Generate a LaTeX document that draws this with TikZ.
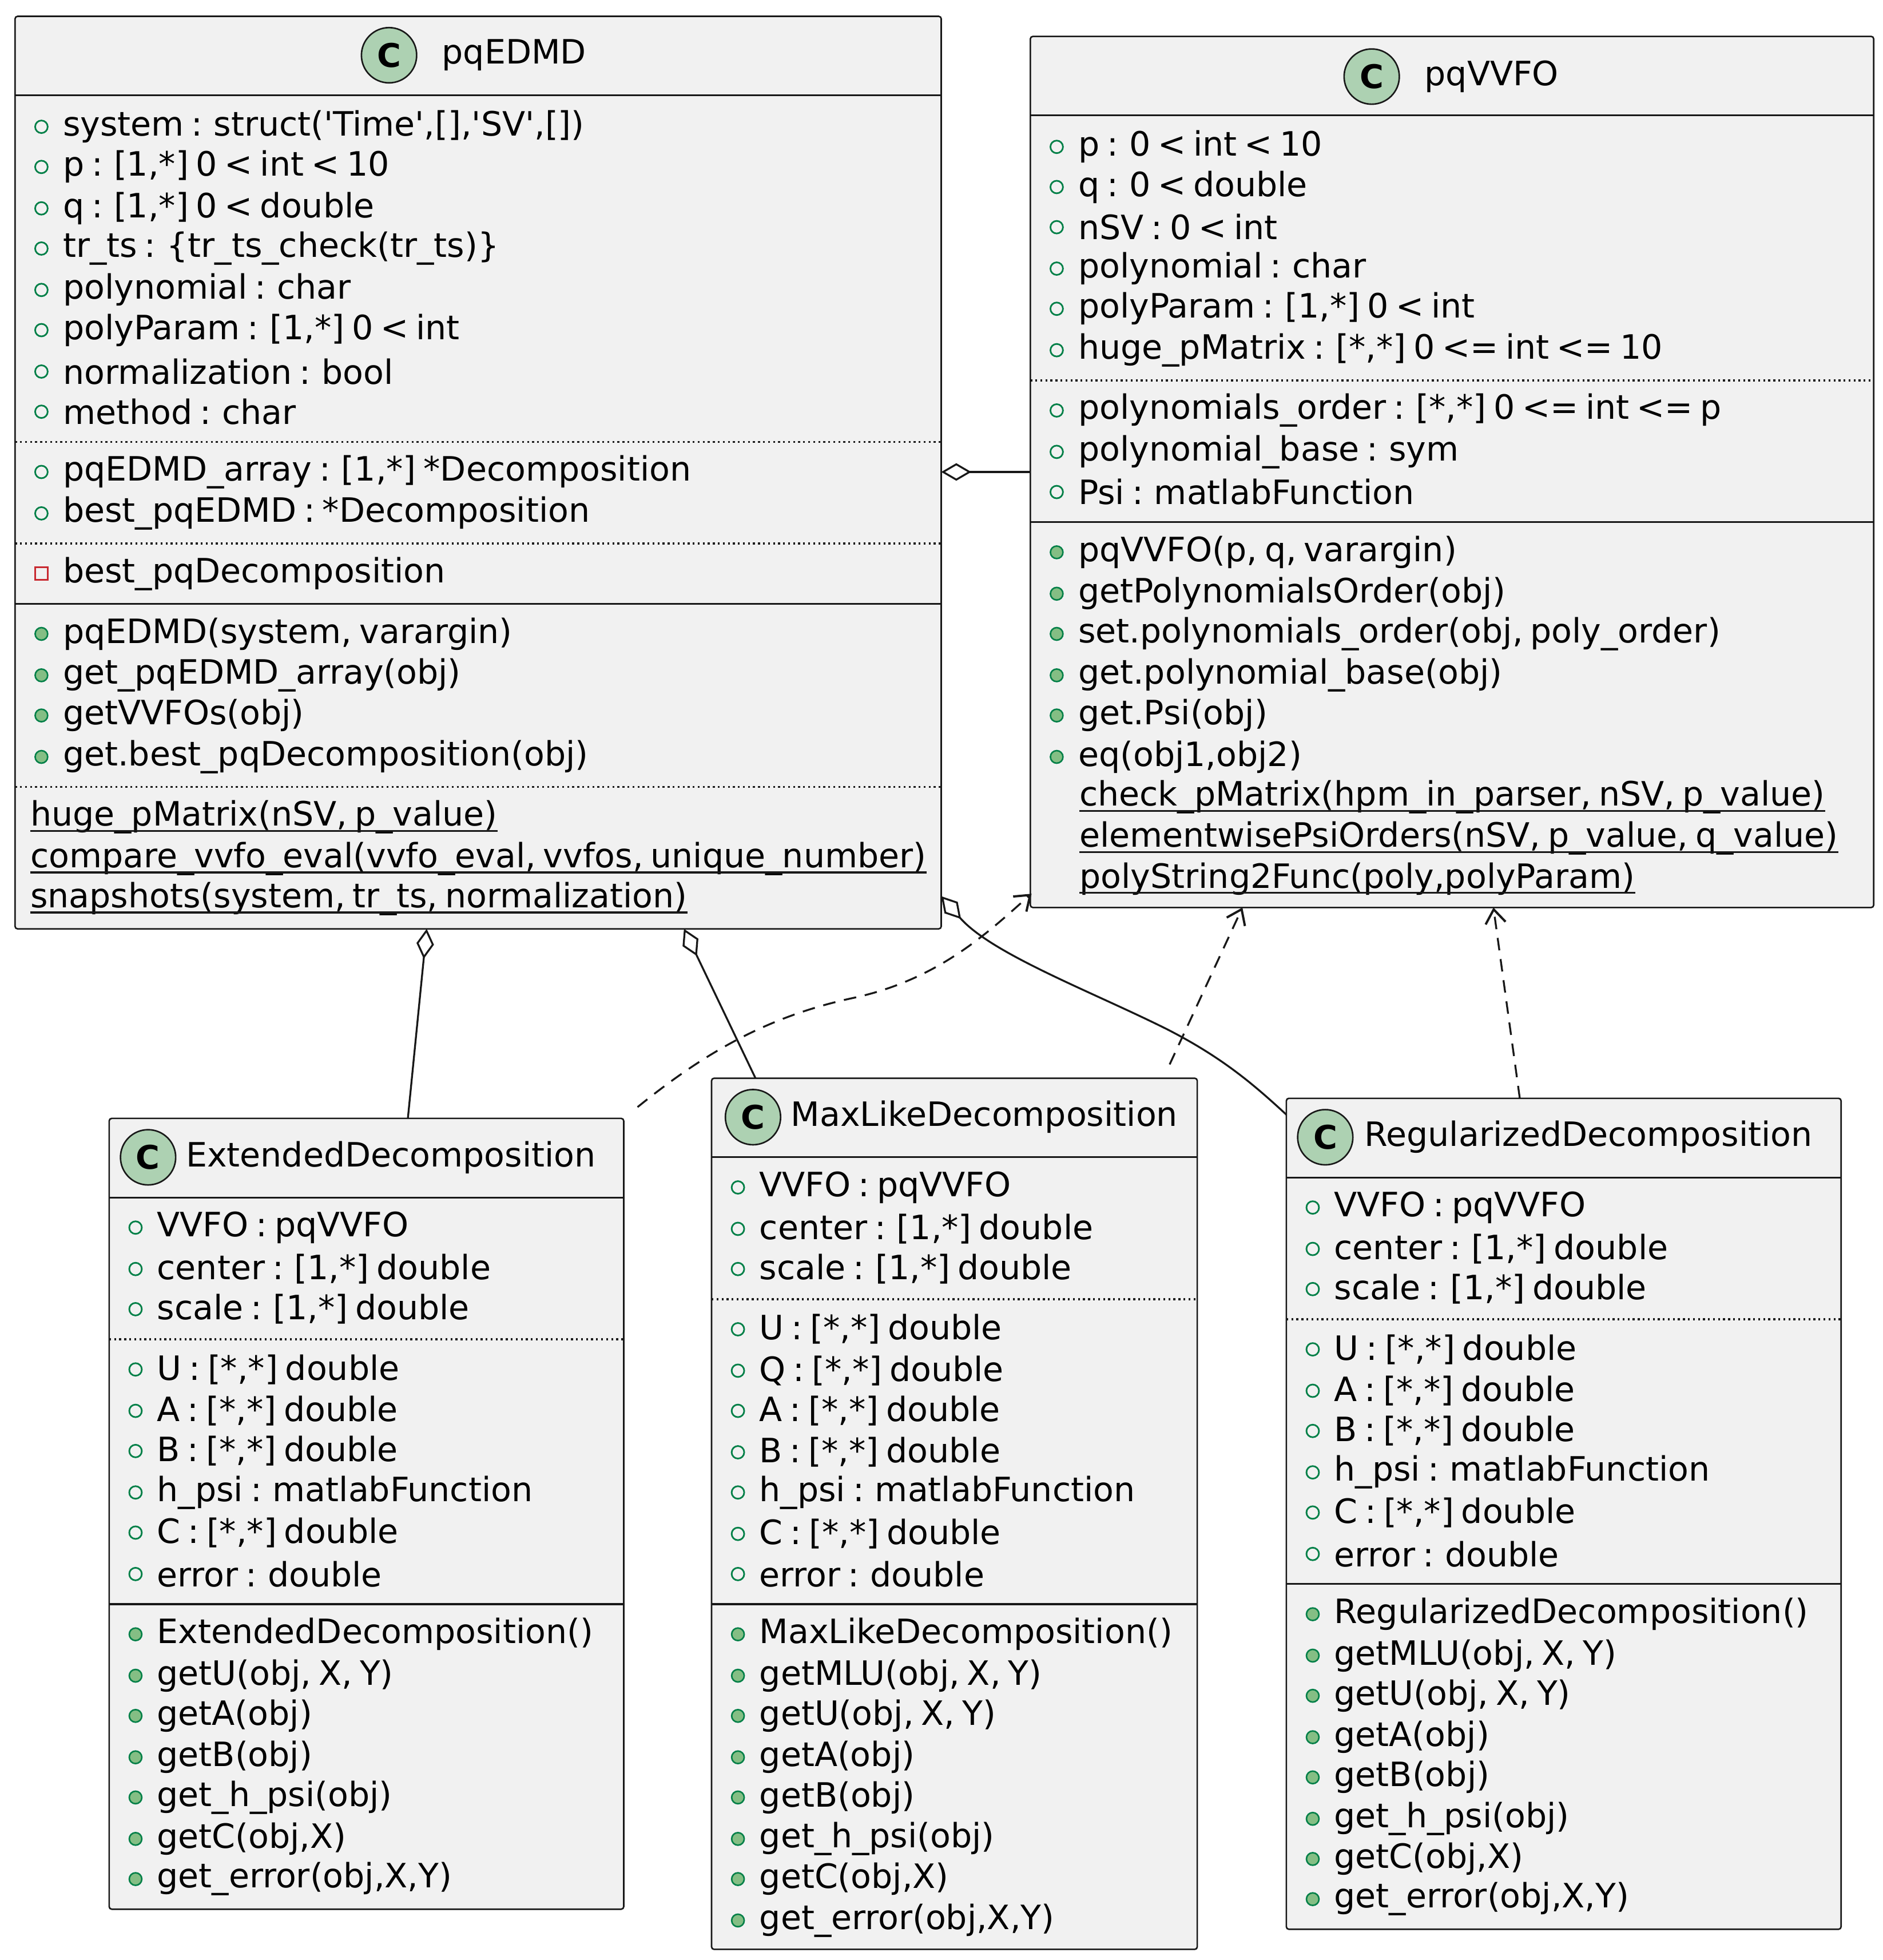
\documentclass[tikz,border=0pt]{standalone}
\usepackage{fontspec}
\setmainfont{DejaVu Sans}
\usetikzlibrary{arrows.meta}
\definecolor{boxbg}{HTML}{F1F1F1}
\definecolor{bord}{HTML}{181818}
\definecolor{pubg}{HTML}{038048}
\definecolor{methf}{HTML}{84BE84}
\definecolor{privr}{HTML}{C82930}
\definecolor{iconf}{HTML}{ADD1B2}
\newcommand\tightfont{\fontsize{26.7}{30}\selectfont\spaceskip=0.22em plus 0.02em minus 0.02em\relax}
\tikzset{
  classbox/.style={draw=bord,fill=boxbg,line width=1.2pt,rounded corners=2pt},
  rowtext/.style={anchor=west,inner sep=0pt,font=\tightfont},
  dotsep/.style={draw=bord,line width=1.6pt,dash pattern=on 1.5pt off 2.5pt},
  solsep/.style={draw=bord,line width=1.4pt},
  agg/.style={draw=bord,line width=1.5pt,{Diamond[open,fill=white,length=24pt,width=14pt]}-},
  dep/.style={draw=bord,line width=1.5pt,dash pattern=on 10pt off 7pt,-{Straight Barb[length=11pt,width=16pt,line width=1.8pt]}},
}
\newcommand\rowA[3]{\draw[pubg,line width=1.3pt] (#1+21,#2) circle (5);\node[rowtext] at (#1+38,#2) {#3};}
\newcommand\rowM[3]{\draw[pubg,fill=methf,line width=1.2pt] (#1+21,#2) circle (5);\node[rowtext] at (#1+38,#2) {#3};}
\newcommand\rowP[3]{\draw[privr,line width=1.3pt] (#1+16,#2-5) rectangle (#1+26,#2+5);\node[rowtext] at (#1+38,#2) {#3};}
\newcommand\rowS[3]{\node[rowtext] (s) at (#1,#2) {#3};\draw[bord,line width=1.5pt] ([yshift=-4pt]s.base west)--([yshift=-4pt]s.base east);}
\newcommand\ticon[2]{\draw[bord,fill=iconf,line width=1.2pt] (#1,#2) circle (22);\node[font=\fontsize{26}{26}\selectfont\bfseries,inner sep=0pt] at (#1,#2) {C};}
\newcommand\q{\textquotesingle}
\begin{document}
\begin{tikzpicture}[x=1pt,y=-1pt]
\useasboundingbox (0,0) rectangle (1500,1561.5);
% ---------- pqEDMD
\draw[classbox] (12,13) rectangle (750,740);
\coordinate (edmdR) at (750,376);
\coordinate (edmdB1) at (340,740);
\coordinate (edmdB2) at (545,740);
\coordinate (edmdC) at (750,714);
\ticon{310}{44}
\node[rowtext] (t1) at (352,44) {pqEDMD};
\draw[solsep] (12,76)--(750,76);
\rowA{12}{101}{system : struct(\q Time\q,[],\q SV\q,[])}
\rowA{12}{133}{p : [1,*] 0 < int < 10}
\rowA{12}{166}{q : [1,*] 0 < double}
\rowA{12}{198}{tr\_ts : \{tr\_ts\_check(tr\_ts)\}}
\rowA{12}{231}{polynomial : char}
\rowA{12}{263}{polyParam : [1,*] 0 < int}
\rowA{12}{296}{normalization : bool}
\rowA{12}{328}{method : char}
\draw[dotsep] (12,352)--(750,352);
\rowA{12}{376}{pqEDMD\_array : [1,*] *Decomposition}
\rowA{12}{409}{best\_pqEDMD : *Decomposition}
\draw[dotsep] (12,433)--(750,433);
\rowP{12}{457}{best\_pqDecomposition}
\draw[solsep] (12,481)--(750,481);
\rowM{12}{505}{pqEDMD(system, varargin)}
\rowM{12}{538}{get\_pqEDMD\_array(obj)}
\rowM{12}{570}{getVVFOs(obj)}
\rowM{12}{603}{get.best\_pqDecomposition(obj)}
\draw[dotsep] (12,627)--(750,627);
\rowS{24}{651}{huge\_pMatrix(nSV, p\_value)}
\rowS{24}{684}{compare\_vvfo\_eval(vvfo\_eval, vvfos, unique\_number)}
\rowS{24}{716}{snapshots(system, tr\_ts, normalization)}
% ---------- pqVVFO
\draw[classbox] (821,29) rectangle (1493,723);
\coordinate (vvfoL) at (821,376);
\coordinate (vvfoB1) at (822,712);
\coordinate (vvfoB2) at (990,723);
\coordinate (vvfoB3) at (1190,723);
\ticon{1093}{61}
\node[rowtext] (t2) at (1135,61) {pqVVFO};
\draw[solsep] (821,92)--(1493,92);
\rowA{821}{117}{p : 0 < int < 10}
\rowA{821}{149}{q : 0 < double}
\rowA{821}{181}{nSV : 0 < int}
\rowA{821}{214}{polynomial : char}
\rowA{821}{246}{polyParam : [1,*] 0 < int}
\rowA{821}{279}{huge\_pMatrix : [*,*] 0 <= int <= 10}
\draw[dotsep] (821,303)--(1493,303);
\rowA{821}{327}{polynomials\_order : [*,*] 0 <= int <= p}
\rowA{821}{360}{polynomial\_base : sym}
\rowA{821}{392}{Psi : matlabFunction}
\draw[solsep] (821,416)--(1493,416);
\rowM{821}{440}{pqVVFO(p, q, varargin)}
\rowM{821}{473}{getPolynomialsOrder(obj)}
\rowM{821}{505}{set.polynomials\_order(obj, poly\_order)}
\rowM{821}{538}{get.polynomial\_base(obj)}
\rowM{821}{570}{get.Psi(obj)}
\rowM{821}{603}{eq(obj1,obj2)}
\rowS{860}{635}{check\_pMatrix(hpm\_in\_parser, nSV, p\_value)}
\rowS{860}{668}{elementwisePsiOrders(nSV, p\_value, q\_value)}
\rowS{860}{700}{polyString2Func(poly,polyParam)}
% ---------- ExtendedDecomposition
\draw[classbox] (87,891) rectangle (497,1521);
\coordinate (extT) at (325,891);
\coordinate (extC) at (508,882);
\ticon{118}{922}
\node[rowtext] (t3) at (148,922) {ExtendedDecomposition};
\draw[solsep] (87,954)--(497,954);
\rowA{87}{978}{VVFO : pqVVFO}
\rowA{87}{1011}{center : [1,*] double}
\rowA{87}{1043}{scale : [1,*] double}
\draw[dotsep] (87,1067)--(497,1067);
\rowA{87}{1091}{U : [*,*] double}
\rowA{87}{1124}{A : [*,*] double}
\rowA{87}{1156}{B : [*,*] double}
\rowA{87}{1189}{h\_psi : matlabFunction}
\rowA{87}{1221}{C : [*,*] double}
\rowA{87}{1254}{error : double}
\draw[solsep] (87,1278)--(497,1278);
\rowM{87}{1302}{ExtendedDecomposition()}
\rowM{87}{1335}{getU(obj, X, Y)}
\rowM{87}{1367}{getA(obj)}
\rowM{87}{1400}{getB(obj)}
\rowM{87}{1432}{get\_h\_psi(obj)}
\rowM{87}{1465}{getC(obj,X)}
\rowM{87}{1497}{get\_error(obj,X,Y)}
% ---------- MaxLikeDecomposition
\draw[classbox] (567,859) rectangle (954,1553);
\coordinate (maxT) at (602,859);
\coordinate (maxC) at (932,848);
\ticon{600}{890}
\node[rowtext] (t4) at (630,890) {MaxLikeDecomposition};
\draw[solsep] (567,922)--(954,922);
\rowA{567}{946}{VVFO : pqVVFO}
\rowA{567}{979}{center : [1,*] double}
\rowA{567}{1011}{scale : [1,*] double}
\draw[dotsep] (567,1035)--(954,1035);
\rowA{567}{1059}{U : [*,*] double}
\rowA{567}{1092}{Q : [*,*] double}
\rowA{567}{1124}{A : [*,*] double}
\rowA{567}{1157}{B : [*,*] double}
\rowA{567}{1189}{h\_psi : matlabFunction}
\rowA{567}{1222}{C : [*,*] double}
\rowA{567}{1254}{error : double}
\draw[solsep] (567,1278)--(954,1278);
\rowM{567}{1302}{MaxLikeDecomposition()}
\rowM{567}{1335}{getMLU(obj, X, Y)}
\rowM{567}{1367}{getU(obj, X, Y)}
\rowM{567}{1400}{getA(obj)}
\rowM{567}{1432}{getB(obj)}
\rowM{567}{1465}{get\_h\_psi(obj)}
\rowM{567}{1497}{getC(obj,X)}
\rowM{567}{1530}{get\_error(obj,X,Y)}
% ---------- RegularizedDecomposition
\draw[classbox] (1025,875) rectangle (1467,1537);
\coordinate (regL) at (1025,888);
\coordinate (regT) at (1211,875);
\ticon{1056}{906}
\node[rowtext] (t5) at (1087,906) {RegularizedDecomposition};
\draw[solsep] (1025,938)--(1467,938);
\rowA{1025}{962}{VVFO : pqVVFO}
\rowA{1025}{995}{center : [1,*] double}
\rowA{1025}{1027}{scale : [1,*] double}
\draw[dotsep] (1025,1051)--(1467,1051);
\rowA{1025}{1075}{U : [*,*] double}
\rowA{1025}{1108}{A : [*,*] double}
\rowA{1025}{1140}{B : [*,*] double}
\rowA{1025}{1173}{h\_psi : matlabFunction}
\rowA{1025}{1205}{C : [*,*] double}
\rowA{1025}{1238}{error : double}
\draw[solsep] (1025,1262)--(1467,1262);
\rowM{1025}{1286}{RegularizedDecomposition()}
\rowM{1025}{1319}{getMLU(obj, X, Y)}
\rowM{1025}{1351}{getU(obj, X, Y)}
\rowM{1025}{1384}{getA(obj)}
\rowM{1025}{1416}{getB(obj)}
\rowM{1025}{1449}{get\_h\_psi(obj)}
\rowM{1025}{1481}{getC(obj,X)}
\rowM{1025}{1513}{get\_error(obj,X,Y)}
% ---------- connectors
\draw[agg] (edmdR) -- (vvfoL);
\draw[agg] (edmdB1) -- (extT);
\draw[agg] (edmdB2) -- (maxT);
\draw[agg] (edmdC) .. controls (790,760) and (870,790) .. (930,820) .. controls (975,843) and (1000,865) .. (regL);
\draw[dep] (extC) .. controls (560,840) and (610,810) .. (680,795) .. controls (750,780) and (790,740) .. (vvfoB1);
\draw[dep] (maxC) -- (vvfoB2);
\draw[dep] (regT) -- (vvfoB3);
\end{tikzpicture}
\end{document}
